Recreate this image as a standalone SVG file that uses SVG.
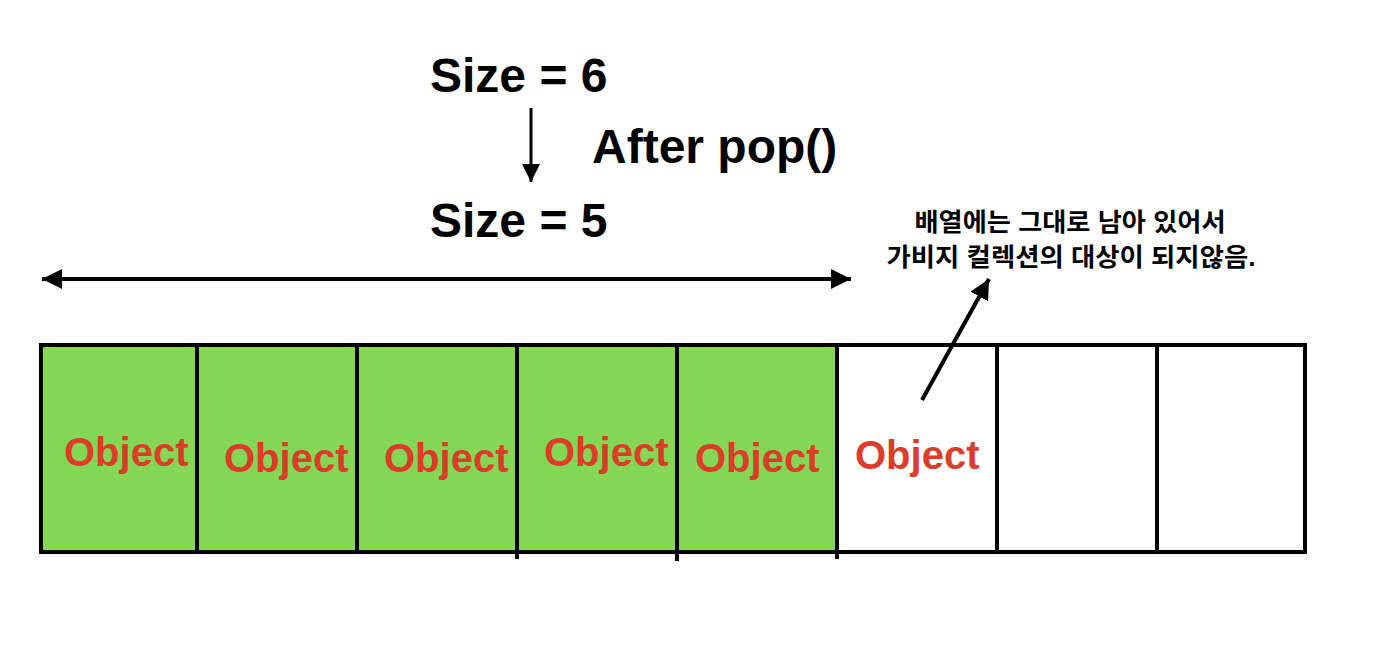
<svg xmlns="http://www.w3.org/2000/svg" width="1382" height="648" viewBox="0 0 1382 648">
<style>
.title{font-family:"Liberation Sans",Arial,sans-serif;font-weight:bold;font-size:48px;fill:#000}
.obj{font-family:"Liberation Sans",Arial,sans-serif;font-weight:bold;font-size:40px;fill:#dc3d2a}
.note{font-family:"Liberation Sans","Noto Sans CJK KR",sans-serif;font-weight:bold;font-size:25px;fill:#000}
.cell{stroke:#000;stroke-width:4}
.conn{stroke:#000;fill:none}
</style>
<defs>
<marker id="ah" viewBox="0 0 10 10" refX="10" refY="5" markerWidth="5" markerHeight="5" markerUnits="strokeWidth" orient="auto-start-reverse">
<path d="M0,0 L10,5 L0,10 z" fill="#000"/>
</marker>
<marker id="ahs" viewBox="0 0 10 10" refX="10" refY="5" markerWidth="6" markerHeight="10" markerUnits="strokeWidth" orient="auto">
<path d="M0,0 L10,5 L0,10 z" fill="#000"/>
</marker>
</defs>
<rect width="1382" height="648" fill="#fff"/>
<g id="labels">
<text class="title" x="430" y="92">Size = 6</text>
<text class="title" x="592" y="163" font-size="46.5">After pop()</text>
<text class="title" x="430" y="237">Size = 5</text>
</g>
<g id="note">
<text class="note" x="1070" y="231" text-anchor="middle" textLength="311" lengthAdjust="spacingAndGlyphs">배열에는 그대로 남아 있어서</text>
<text class="note" x="1071" y="266" text-anchor="middle" textLength="369" lengthAdjust="spacingAndGlyphs">가비지 컬렉션의 대상이 되지않음.</text>
</g>
<g id="array">
<rect x="41" y="345" width="796" height="207" fill="#84d655"/>
<g id="cell1"><rect class="cell" x="41" y="345" width="156" height="207" fill="none"/><text class="obj" x="64" y="466">Object</text></g>
<g id="cell2"><rect class="cell" x="197" y="345" width="160" height="207" fill="none"/><text class="obj" x="224" y="472">Object</text></g>
<g id="cell3"><rect class="cell" x="357" y="345" width="160" height="207" fill="none"/><text class="obj" x="384" y="472">Object</text></g>
<g id="cell4"><rect class="cell" x="517" y="345" width="160" height="207" fill="none"/><text class="obj" x="544" y="466">Object</text></g>
<g id="cell5"><rect class="cell" x="677" y="345" width="160" height="207" fill="none"/><text class="obj" x="695" y="472">Object</text></g>
<g id="cell6"><rect class="cell" x="837" y="345" width="160" height="207" fill="none"/><text class="obj" x="855" y="469">Object</text></g>
<g id="cell7"><rect class="cell" x="997" y="345" width="160" height="207" fill="none"/></g>
<g id="cell8"><rect class="cell" x="1157" y="345" width="148" height="207" fill="none"/></g>
<g id="ticks">
<line class="cell" x1="517" y1="552" x2="517" y2="559"/>
<line class="cell" x1="677" y1="552" x2="677" y2="561"/>
<line class="cell" x1="837" y1="552" x2="837" y2="559"/>
</g>
</g>
<g id="connectors">
<line class="conn" x1="531" y1="108" x2="531" y2="182" stroke-width="3" marker-end="url(#ahs)"/>
<line class="conn" x1="42" y1="279" x2="851" y2="279" stroke-width="4" marker-start="url(#ah)" marker-end="url(#ah)"/>
<line class="conn" x1="922" y1="400" x2="989" y2="279" stroke-width="4" marker-end="url(#ah)"/>
</g>
</svg>
